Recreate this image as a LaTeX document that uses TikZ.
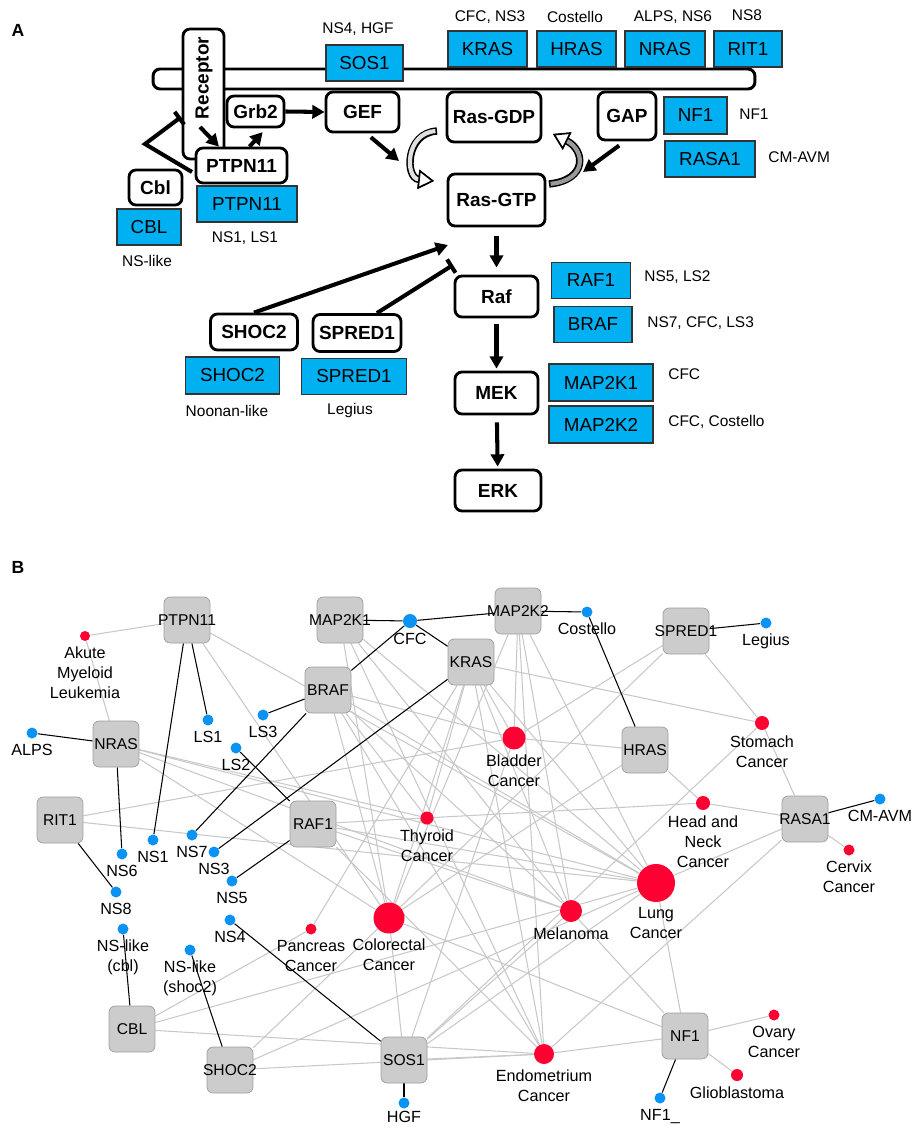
\documentclass[tikz,border=0pt]{standalone}
\usepackage{fontspec}
\setmainfont{Liberation Sans}
\usetikzlibrary{arrows.meta,backgrounds}

\definecolor{genecyan}{HTML}{00B0F0}
\definecolor{boxgray}{HTML}{CCCCCC}
\definecolor{dotblue}{HTML}{0A92F5}
\definecolor{dotred}{HTML}{FF0033}
\definecolor{edgegray}{HTML}{C8C8C8}

\begin{document}
\begin{tikzpicture}[x=0.02cm, y=-0.02cm,
  panel/.style={inner sep=0pt, font=\fontsize{10}{12}\selectfont\bfseries},
  wbox/.style={draw, line width=1.6pt, rounded corners=4pt, fill=white, inner sep=0pt,
    font=\fontsize{10.8}{13}\selectfont\bfseries},
  cbox/.style={draw=black!80, line width=0.7pt, fill=genecyan, inner sep=0pt,
    minimum height=0.72cm, font=\fontsize{10.7}{13}\selectfont},
  note/.style={inner sep=0pt, font=\fontsize{8.8}{11}\selectfont},
  act/.style={line width=2.3pt, -{Triangle[length=7pt,width=7.5pt]}},
  inh/.style={line width=2.3pt, -{Bar[width=9pt]}},
  gene/.style={draw=black!38, line width=0.4pt, fill=boxgray, rounded corners=3.5pt,
    minimum size=0.92cm, inner sep=0pt},
  gname/.style={inner sep=0pt, font=\fontsize{8.9}{11}\selectfont},
  lab/.style={inner sep=0pt, label distance=0.1cm, align=center,
    font=\fontsize{9.2}{11.4}\selectfont},
  syn/.style={circle, fill=dotblue, inner sep=0pt, minimum size=#1},
  syn/.default=0.22cm,
  cancer/.style={circle, fill=dotred, inner sep=0pt, minimum size=#1},
  cancer/.default=0.22cm,
  link/.style={line width=0.6pt},
  glink/.style={edgegray, line width=0.6pt},
]
\useasboundingbox (0,0) rectangle (913,1128);

% ---------- panel A ----------
\node[panel] (pa) at (18,30) {A};

\node[draw, line width=1.7pt, rounded corners=4pt, fill=white, inner sep=0pt,
  minimum width=12.04cm, minimum height=0.4cm] (memb) at (454,79) {};
\node[wbox, minimum width=0.82cm, minimum height=2.6cm] (recep) at (203.5,94) {};
\node[inner sep=0pt, rotate=90, font=\fontsize{10.8}{13}\selectfont\bfseries] (recept) at (204,78) {Receptor};

\node[cbox, minimum width=1.54cm] (sosA) at (364.5,63) {SOS1};
\node[cbox, minimum width=1.58cm] (krasA) at (487.5,49) {KRAS};
\node[cbox, minimum width=1.58cm] (hrasA) at (576.5,49) {HRAS};
\node[cbox, minimum width=1.6cm] (nrasA) at (665,49) {NRAS};
\node[cbox, minimum width=1.36cm] (ritA) at (748,49) {RIT1};
\node[note] (sosN) at (358,29) {NS4, HGF};
\node[note] (krasN) at (490,17) {CFC, NS3};
\node[note] (hrasN) at (575,17) {Costello};
\node[note] (nrasN) at (673,17) {ALPS, NS6};
\node[note] (ritN) at (747,15) {NS8};

\node[wbox, minimum width=1.14cm, minimum height=0.62cm] (grb) at (255.5,111.5) {Grb2};
\node[wbox, minimum width=1.46cm, minimum height=0.8cm] (gef) at (362.5,112) {GEF};
\node[wbox, minimum width=1.88cm, minimum height=1cm] (rgdp) at (494,117) {Ras-GDP};
\node[wbox, minimum width=1.16cm, minimum height=0.96cm] (gap) at (627,116) {GAP};
\node[wbox, minimum width=1.94cm, minimum height=1.04cm] (rgtp) at (496.5,200) {Ras-GTP};
\node[wbox, minimum width=1.82cm, minimum height=0.7cm] (ptpw) at (241.5,165.5) {PTPN11};
\node[wbox, minimum width=1.06cm, minimum height=0.7cm] (cblw) at (155.5,187.5) {Cbl};
\node[wbox, minimum width=1.66cm, minimum height=0.82cm] (raf) at (496.5,296.5) {Raf};
\node[wbox, minimum width=1.66cm, minimum height=0.84cm] (mek) at (496.5,393) {MEK};
\node[wbox, minimum width=1.72cm, minimum height=0.82cm] (erk) at (498,490.5) {ERK};
\node[wbox, minimum width=1.74cm, minimum height=0.72cm] (shocw) at (254,332) {SHOC2};
\node[wbox, minimum width=1.76cm, minimum height=0.74cm] (spredw) at (357,333) {SPRED1};

\node[cbox, minimum width=1.26cm, minimum height=0.74cm] (nfA) at (695.5,115.5) {NF1};
\node[cbox, minimum width=1.8cm] (rasaA) at (710,159) {RASA1};
\node[cbox, minimum width=2cm] (ptpA) at (247,204) {PTPN11};
\node[cbox, minimum width=1.28cm] (cblA) at (149,227) {CBL};
\node[cbox, minimum width=1.58cm] (raf1A) at (591,280.5) {RAF1};
\node[cbox, minimum width=1.56cm] (brafA) at (593,324.5) {BRAF};
\node[cbox, minimum width=2.08cm, minimum height=0.74cm] (mek1A) at (601,382.5) {MAP2K1};
\node[cbox, minimum width=2.08cm, minimum height=0.74cm] (mek2A) at (601,424.5) {MAP2K2};
\node[cbox, minimum width=1.88cm, minimum height=0.74cm] (shocA) at (232.5,375.5) {SHOC2};
\node[cbox, minimum width=2.1cm] (spredA) at (354,376.5) {SPRED1};

\node[note, anchor=west] (nfN) at (739,114) {NF1};
\node[note, anchor=west] (rasaN) at (768,157) {CM-AVM};
\node[note] (ptpN) at (245,238) {NS1, LS1};
\node[note] (cblN) at (147,261) {NS-like};
\node[note, anchor=west] (raf1N) at (644,277) {NS5, LS2};
\node[note, anchor=west] (brafN) at (647,323) {NS7, CFC, LS3};
\node[note, anchor=west] (mek1N) at (668,374) {CFC};
\node[note, anchor=west] (mek2N) at (668,422) {CFC, Costello};
\node[note] (shocN) at (227,411) {Noonan-like};
\node[note] (spredN) at (350,411) {Legius};

\coordinate (rcpout) at (200,127);
\coordinate (gefhit) at (399,161);
\coordinate (gaphit) at (583,172);
\coordinate (shochit) at (448,245);
\coordinate (spredhit) at (453,265);
\coordinate (cblstart) at (192,172);
\coordinate (cblkink) at (145,144);
\coordinate (rcphit) at (181,117);
\coordinate (gdpout) at (437,131);
\coordinate (gtpin) at (434,181);
\coordinate (gtpout) at (549,184);
\coordinate (gdpin) at (553,134);

\draw[act] (rcpout) -- (ptpw.140);
\draw[act, shorten >=0.1cm] (ptpw.67) -- (grb.-58);
\draw[act] (grb.east) -- (gef.west);
\draw[act, shorten <=0.12cm] (gef.-80) -- (gefhit);
\draw[act, shorten <=0.14cm] (gap.-95) -- (gaphit);
\draw[act, shorten <=0.18cm, shorten >=0.14cm] (rgtp.south) -- (raf.north);
\draw[act, shorten <=0.12cm, shorten >=0.04cm] (raf) -- (mek);
\draw[act, shorten <=0.14cm, shorten >=0.04cm] (mek) -- (erk);
\draw[act] (shocw.north) -- (shochit);
\draw[inh] (spredw.45) -- (spredhit);
\draw[inh] (cblstart) -- (cblkink) -- (rcphit);

% GDP/GTP exchange
\draw[line width=4.2pt, -{Triangle[open, fill=white, length=9pt, width=11pt, line width=0.9pt]}]
  (gdpout) .. controls (405,133) and (405,178) .. (gtpin);
\draw[line width=2.4pt, black!12, shorten <=0.9pt, -{Triangle[open, color=black, fill=white, length=9pt, width=11pt, line width=0.9pt]}]
  (gdpout) .. controls (405,133) and (405,178) .. (gtpin);
\draw[line width=4.2pt, -{Triangle[open, fill=white, length=9pt, width=11pt, line width=0.9pt]}]
  (gtpout) .. controls (588,180) and (585,150) .. (gdpin);
\draw[line width=2.4pt, black!40, shorten <=0.9pt, -{Triangle[open, color=black, fill=white, length=9pt, width=11pt, line width=0.9pt]}]
  (gtpout) .. controls (588,180) and (585,150) .. (gdpin);

% ---------- panel B ----------
\node[panel] (pb) at (18,567) {B};

\node[gene, label={[gname]center:PTPN11}] (ptpn) at (187,620) {};
\node[gene, label={[gname]center:MAP2K1}] (mapk1) at (340,620) {};
\node[gene, label={[gname]center:MAP2K2}] (mapk2) at (518,611) {};
\node[gene, label={[gname]center:SPRED1}] (spred) at (686,631) {};
\node[gene, label={[gname]center:KRAS}] (kras) at (471,662) {};
\node[gene, label={[gname]center:BRAF}] (braf) at (328,690) {};
\node[gene, label={[gname]center:NRAS}] (nras) at (116,744) {};
\node[gene, label={[gname]center:HRAS}] (hras) at (645,750) {};
\node[gene, label={[gname]center:RIT1}] (rit) at (60,820) {};
\node[gene, label={[gname]center:RAF1}] (rafb) at (313,824) {};
\node[gene, label={[gname]center:RASA1}] (rasa) at (805,819) {};
\node[gene, label={[gname]center:CBL}] (cbl) at (132,1029) {};
\node[gene, label={[gname]center:SHOC2}] (shoc) at (230,1070) {};
\node[gene, label={[gname]center:SOS1}] (sos) at (404,1060) {};
\node[gene, label={[gname]center:NF1}] (nf) at (685,1036) {};

\node[syn=0.28cm, label={[lab]below:CFC}] (cfc) at (410,621) {};
\node[syn, label={[lab]below:Costello}] (cost) at (587,612) {};
\node[syn, label={[lab]below:Legius}] (leg) at (766,623) {};
\node[syn, label={[lab]below:LS1}] (ls1) at (208,720) {};
\node[syn, label={[lab]below:LS3}] (ls3) at (263,715) {};
\node[syn, label={[lab]below:LS2}] (ls2) at (236,748) {};
\node[syn, label={[lab]below:ALPS}] (alps) at (32,733) {};
\node[syn, label={[lab]below:NS1}] (ns1) at (153,840) {};
\node[syn, label={[lab]below:NS7}] (ns7) at (192,835) {};
\node[syn, label={[lab]below:NS3}] (ns3) at (214,852) {};
\node[syn, label={[lab]below:NS6}] (ns6) at (122,854) {};
\node[syn, label={[lab]below:NS8}] (ns8) at (116,892) {};
\node[syn, label={[lab]below:NS5}] (ns5) at (232,881) {};
\node[syn, label={[lab]below:NS4}] (ns4) at (230,920) {};
\node[syn, label={[lab]below:NS-like\\(cbl)}] (nscbl) at (123,929) {};
\node[syn, label={[lab]below:NS-like\\(shoc2)}] (nsshoc) at (190,950) {};
\node[syn, label={[lab, label distance=0.04cm]below:HGF}] (hgf) at (404,1103) {};
\node[syn, label={[lab]below:NF1\_}] (nfu) at (660,1098) {};
\node[syn, label={[lab]below:CM-AVM}] (cmavm) at (880,799) {};

\node[cancer=0.2cm, label={[lab]below:Akute\\Myeloid\\Leukemia}] (aml) at (85,636) {};
\node[cancer=0.46cm, label={[lab]below:Bladder\\Cancer}] (blad) at (514,738) {};
\node[cancer=0.28cm, label={[lab]below:Stomach\\Cancer}] (stom) at (762,723) {};
\node[cancer=0.28cm, label={[lab]below:Head and\\Neck\\Cancer}] (hnc) at (703,803) {};
\node[cancer=0.26cm, label={[lab]below:Thyroid\\Cancer}] (thyr) at (427,818) {};
\node[cancer, label={[lab]below:Cervix\\Cancer}] (cerv) at (849,850) {};
\node[cancer=0.76cm, label={[lab]below:Lung\\Cancer}] (lung) at (656,883) {};
\node[cancer=0.44cm, label={[lab]below:Melanoma}] (mela) at (571,911) {};
\node[cancer=0.62cm, label={[lab]below:Colorectal\\Cancer}] (colo) at (389,918) {};
\node[cancer, label={[lab]below:Pancreas\\Cancer}] (panc) at (311,929) {};
\node[cancer=0.4cm, label={[lab]below:Endometrium\\Cancer}] (endo) at (544,1054) {};
\node[cancer, label={[lab]below:Ovary\\Cancer}] (ovar) at (774,1015) {};
\node[cancer=0.24cm, label={[lab]below:Glioblastoma}] (glio) at (737,1075) {};

\begin{pgfonlayer}{background}
% gene -- cancer
\foreach \g/\c in {ptpn/aml, ptpn/lung, ptpn/colo,
    mapk1/colo, mapk1/mela, mapk1/lung, mapk1/endo,
    mapk2/blad, mapk2/mela, mapk2/lung, mapk2/endo, mapk2/colo,
    spred/blad, spred/colo, spred/stom,
    kras/stom, kras/blad, kras/lung, kras/mela, kras/colo, kras/thyr, kras/panc, kras/endo,
    braf/thyr, braf/colo, braf/mela, braf/lung, braf/blad, braf/endo,
    nras/aml, nras/mela, nras/lung, nras/thyr, nras/colo,
    hras/blad, hras/hnc, hras/colo,
    rit/blad, rit/lung,
    rafb/hnc, rafb/lung, rafb/mela, rafb/endo,
    rasa/stom, rasa/hnc, rasa/lung, rasa/cerv, rasa/endo,
    cbl/panc, cbl/lung, cbl/endo,
    shoc/colo, shoc/lung, shoc/endo,
    sos/colo, sos/mela, sos/lung, sos/endo, sos/blad, sos/stom,
    nf/lung, nf/mela, nf/colo, nf/endo, nf/ovar, nf/glio}
  \draw[glink] (\g) -- (\c);
% gene -- syndrome
\foreach \a/\b in {mapk1/cfc, cfc/mapk2, cfc/braf, cfc/kras, mapk2/cost, cost/hras,
    spred/leg, ptpn/ls1, ptpn/ns1, braf/ls3, braf/ns7, ls2/rafb, kras/ns3, rafb/ns5,
    nras/alps, nras/ns6, rit/ns8, ns4/sos, nscbl/cbl, nsshoc/shoc, sos/hgf, nf/nfu,
    rasa/cmavm}
  \draw[link] (\a) -- (\b);
\end{pgfonlayer}
\end{tikzpicture}
\end{document}
